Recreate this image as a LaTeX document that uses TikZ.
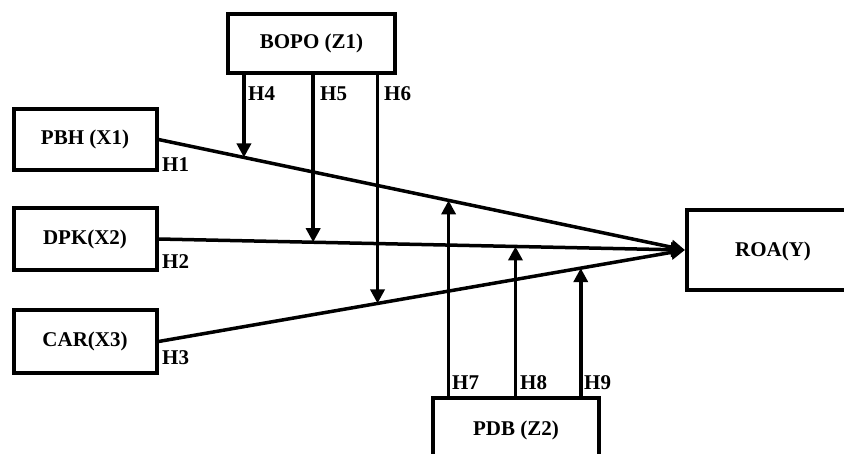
\documentclass[tikz,border=0pt]{standalone}
\usepackage{fontspec}
\setmainfont{Liberation Serif}
\usetikzlibrary{arrows.meta}
\begin{document}
\begin{tikzpicture}[x=1pt,y=-1pt,
  box/.style={draw,line width=4pt,minimum width=#1,inner sep=0pt},
  txt/.style={font=\fontsize{21}{25}\selectfont\bfseries,inner sep=0pt},
  lab/.style={font=\fontsize{21}{25}\selectfont\bfseries,inner sep=0pt,anchor=west},
  conn/.style={line width=3.5pt,-{Triangle[length=14pt,width=14pt]}}]
\useasboundingbox (0,0) rectangle (844,453);
\clip (0,0) rectangle (844,453);
\node[box=167pt,minimum height=59pt,txt] (bopo) at (311.5,43.5) {BOPO (Z1)};
\node[box=143pt,minimum height=61pt,txt] (pbh) at (85,139.5) {PBH (X1)};
\node[box=143pt,minimum height=62pt,txt] (dpk) at (85,239) {DPK(X2)};
\node[box=143pt,minimum height=63pt,txt] (car) at (85,341.5) {CAR(X3)};
\node[box=200pt,minimum height=80pt] (roa) at (787,250) {};
\node[txt] (roat) at (773,251) {ROA(Y)};
\node[box=166pt,minimum height=80pt] (pdb) at (516,438) {};
\node[txt] (pdbt) at (516,430) {PDB (Z2)};
\draw[conn] (pbh.east) -- (roa.west);
\draw[conn] (dpk.east) -- (roa.west);
\draw[conn] (car.east) -- (roa.west);
\path (pbh.east) -- (roa.west) coordinate[pos=0.1623] (t4) coordinate[pos=0.551] (t7);
\path (dpk.east) -- (roa.west) coordinate[pos=0.2938] (t5) coordinate[pos=0.678] (t8);
\path (car.east) -- (roa.west) coordinate[pos=0.416] (t6) coordinate[pos=0.802] (t9);
\draw[conn] (t4 |- bopo.south) -- (t4);
\draw[conn] (t5 |- bopo.south) -- (t5);
\draw[conn] (t6 |- bopo.south) -- (t6);
\draw[conn] (t7 |- pdb.north) -- (t7);
\draw[conn] (t8 |- pdb.north) -- (t8);
\draw[conn] (t9 |- pdb.north) -- (t9);
\node[lab] (h1) at (162,165) {H1};
\node[lab] (h2) at (162,262) {H2};
\node[lab] (h3) at (162,358) {H3};
\node[lab] (h4) at (248,94) {H4};
\node[lab] (h5) at (320,94) {H5};
\node[lab] (h6) at (384,94) {H6};
\node[lab] (h7) at (452,383) {H7};
\node[lab] (h8) at (520,383) {H8};
\node[lab] (h9) at (584,383) {H9};
\end{tikzpicture}
\end{document}
